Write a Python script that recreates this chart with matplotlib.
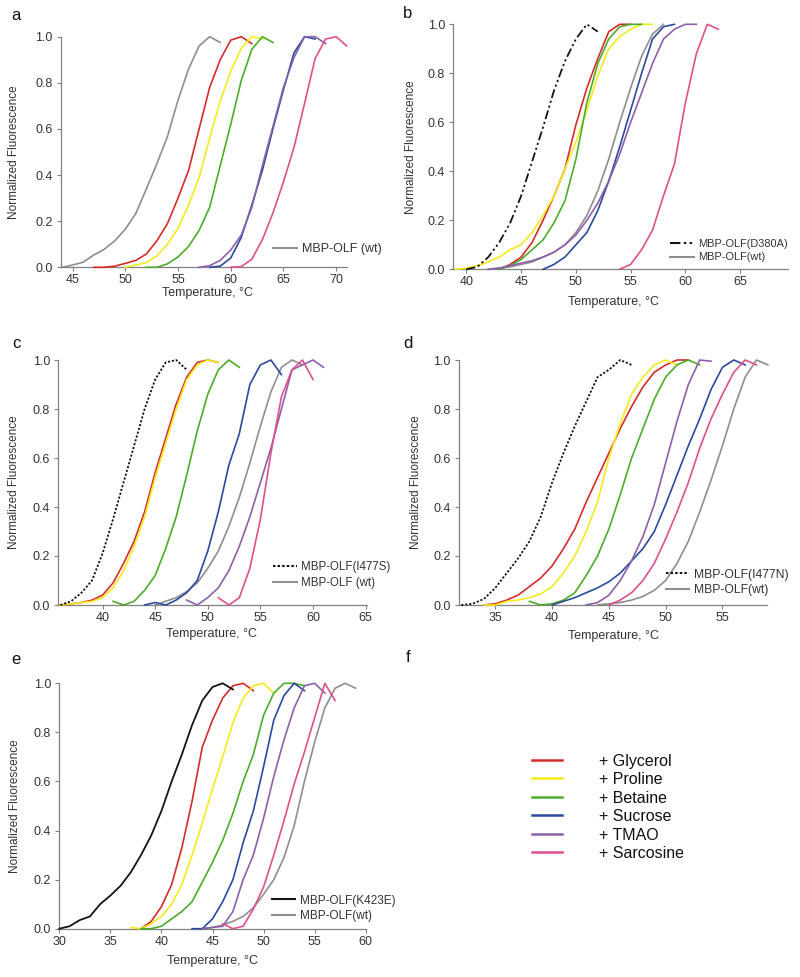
import numpy as np
import matplotlib
matplotlib.use("Agg")
import matplotlib.pyplot as plt
from matplotlib.lines import Line2D

plt.rcParams['font.family'] = ['Liberation Sans', 'DejaVu Sans']

# ---------------- data (start temperature, normalized fluorescence at 1 degC steps) ----------------
# Panel a
a_wt        = (44, [0.0, 0.01, 0.022, 0.053, 0.078, 0.115, 0.165, 0.234, 0.34, 0.45, 0.567, 0.725, 0.86, 0.96, 1.0, 0.975])
a_glycerol  = (47, [0.0, 0.0, 0.005, 0.017, 0.03, 0.058, 0.115, 0.19, 0.3, 0.42, 0.6, 0.78, 0.9, 0.985, 1.0, 0.97])
a_proline   = (50, [0.0, 0.01, 0.02, 0.05, 0.1, 0.17, 0.27, 0.39, 0.56, 0.72, 0.85, 0.95, 1.0, 0.99])
a_betaine   = (52, [0.0, 0.0, 0.015, 0.045, 0.09, 0.16, 0.26, 0.44, 0.62, 0.81, 0.945, 1.0, 0.975])
a_sucrose   = (58, [0.0, 0.005, 0.04, 0.13, 0.27, 0.42, 0.6, 0.77, 0.93, 1.0, 0.99])
a_tmao      = (57, [0.0, 0.007, 0.03, 0.075, 0.14, 0.26, 0.44, 0.61, 0.78, 0.91, 1.0, 1.0, 0.97])
a_sarcosine = (60, [0.0, 0.003, 0.035, 0.12, 0.235, 0.37, 0.52, 0.71, 0.905, 0.99, 1.0, 0.96])

# Panel b
b_mut       = (40, [0.0, 0.01, 0.05, 0.11, 0.19, 0.3, 0.44, 0.58, 0.73, 0.85, 0.94, 1.0, 0.97])
b_wt        = (42, [0.0, 0.005, 0.01, 0.02, 0.03, 0.05, 0.07, 0.1, 0.15, 0.22, 0.32, 0.45, 0.6, 0.74, 0.87, 0.96, 1.0])
b_glycerol  = (43, [0.0, 0.02, 0.05, 0.11, 0.2, 0.3, 0.41, 0.59, 0.74, 0.86, 0.97, 1.0, 1.0])
b_proline   = (39, [0.0, 0.005, 0.015, 0.03, 0.05, 0.08, 0.1, 0.15, 0.22, 0.3, 0.41, 0.52, 0.65, 0.79, 0.9, 0.95, 0.98, 1.0, 1.0])
b_betaine   = (43, [0.0, 0.015, 0.04, 0.08, 0.12, 0.19, 0.28, 0.45, 0.68, 0.84, 0.94, 0.99, 1.0, 1.0])
b_sucrose   = (47, [0.0, 0.02, 0.05, 0.1, 0.15, 0.24, 0.36, 0.5, 0.65, 0.8, 0.94, 0.99, 1.0])
b_tmao      = (42, [0.0, 0.005, 0.015, 0.025, 0.035, 0.05, 0.07, 0.1, 0.14, 0.2, 0.27, 0.36, 0.47, 0.6, 0.72, 0.84, 0.94, 0.98, 1.0, 1.0])
b_sarcosine = (54, [0.0, 0.02, 0.08, 0.16, 0.3, 0.43, 0.68, 0.88, 1.0, 0.98])

# Panel c
c_mut       = (36, [0.0, 0.015, 0.05, 0.1, 0.21, 0.35, 0.5, 0.65, 0.8, 0.92, 0.99, 1.0, 0.96])
c_wt        = (45, [0.0, 0.015, 0.03, 0.055, 0.09, 0.15, 0.22, 0.32, 0.44, 0.58, 0.73, 0.87, 0.97, 1.0, 0.98])
c_glycerol  = (36, [0.0, 0.005, 0.01, 0.02, 0.04, 0.09, 0.17, 0.26, 0.38, 0.54, 0.68, 0.82, 0.93, 0.99, 1.0, 0.99])
c_proline   = (36, [0.0, 0.005, 0.01, 0.015, 0.03, 0.07, 0.14, 0.24, 0.36, 0.52, 0.66, 0.8, 0.92, 0.98, 1.0, 0.99])
c_betaine   = (41, [0.015, 0.0, 0.015, 0.06, 0.12, 0.23, 0.36, 0.53, 0.71, 0.86, 0.96, 1.0, 0.97])
c_sucrose   = (44, [0.0, 0.01, 0.0, 0.02, 0.05, 0.1, 0.22, 0.38, 0.57, 0.7, 0.9, 0.98, 1.0, 0.94])
c_tmao      = (48, [0.02, 0.0, 0.03, 0.07, 0.14, 0.24, 0.36, 0.5, 0.64, 0.8, 0.96, 0.98, 1.0, 0.97])
c_sarcosine = (51, [0.03, 0.0, 0.03, 0.15, 0.35, 0.62, 0.85, 0.96, 1.0, 0.92])

# Panel d
d_mut       = (32, [0.0, 0.005, 0.025, 0.07, 0.13, 0.19, 0.26, 0.36, 0.5, 0.62, 0.73, 0.83, 0.93, 0.96, 1.0, 0.98])
d_wt        = (44, [0.0, 0.005, 0.01, 0.02, 0.035, 0.06, 0.1, 0.17, 0.26, 0.38, 0.51, 0.65, 0.8, 0.93, 1.0, 0.98])
d_glycerol  = (34, [0.0, 0.005, 0.02, 0.04, 0.075, 0.11, 0.16, 0.23, 0.31, 0.42, 0.52, 0.62, 0.72, 0.81, 0.89, 0.95, 0.98, 1.0, 1.0])
d_proline   = (34, [0.0, 0.0, 0.015, 0.02, 0.03, 0.045, 0.075, 0.13, 0.2, 0.3, 0.42, 0.6, 0.74, 0.86, 0.93, 0.98, 1.0, 0.98])
d_betaine   = (38, [0.015, 0.0, 0.005, 0.02, 0.05, 0.12, 0.2, 0.31, 0.45, 0.6, 0.72, 0.84, 0.93, 0.98, 1.0, 0.98])
d_sucrose   = (40, [0.0, 0.015, 0.03, 0.05, 0.07, 0.095, 0.13, 0.18, 0.23, 0.3, 0.41, 0.53, 0.65, 0.76, 0.88, 0.97, 1.0, 0.98])
d_tmao      = (43, [0.0, 0.01, 0.04, 0.1, 0.18, 0.28, 0.41, 0.58, 0.75, 0.9, 1.0, 0.995])
d_sarcosine = (45, [0.0, 0.02, 0.05, 0.1, 0.17, 0.27, 0.38, 0.5, 0.64, 0.76, 0.86, 0.95, 1.0, 0.98])

# Panel e
e_mut       = (30, [0.0, 0.01, 0.035, 0.05, 0.1, 0.135, 0.175, 0.23, 0.3, 0.38, 0.48, 0.6, 0.71, 0.83, 0.93, 0.985, 1.0, 0.975])
e_wt        = (44, [0.0, 0.005, 0.015, 0.03, 0.05, 0.085, 0.14, 0.2, 0.29, 0.42, 0.6, 0.76, 0.9, 0.98, 1.0, 0.98])
e_glycerol  = (38, [0.0, 0.03, 0.09, 0.18, 0.33, 0.52, 0.74, 0.85, 0.94, 0.99, 1.0, 0.97])
e_proline   = (37, [0.005, 0.0, 0.02, 0.05, 0.1, 0.18, 0.3, 0.43, 0.57, 0.7, 0.84, 0.94, 0.99, 1.0, 0.96])
e_betaine   = (38, [0.0, 0.0, 0.01, 0.04, 0.07, 0.11, 0.19, 0.27, 0.36, 0.47, 0.6, 0.71, 0.87, 0.96, 1.0, 1.0, 0.99])
e_sucrose   = (43, [0.0, 0.0, 0.04, 0.11, 0.2, 0.35, 0.48, 0.66, 0.85, 0.95, 1.0, 0.97])
e_tmao      = (44, [0.0, 0.005, 0.01, 0.07, 0.2, 0.3, 0.45, 0.62, 0.77, 0.9, 0.99, 1.0, 0.96])
e_sarcosine = (46, [0.02, 0.0, 0.01, 0.08, 0.17, 0.3, 0.44, 0.59, 0.72, 0.86, 1.0, 0.93])

additives = ['+ Glycerol', '+ Proline', '+ Betaine', '+ Sucrose', '+ TMAO', '+ Sarcosine']
mutant_labels = {'a': None, 'b': 'MBP-OLF(D380A)', 'c': 'MBP-OLF(I477S)',
                 'd': 'MBP-OLF(I477N)', 'e': 'MBP-OLF(K423E)'}
wt_labels = {'a': 'MBP-OLF (wt)', 'b': 'MBP-OLF(wt)', 'c': 'MBP-OLF (wt)',
             'd': 'MBP-OLF(wt)', 'e': 'MBP-OLF(wt)'}
xticks = {'a': [45, 50, 55, 60, 65, 70], 'b': [40, 45, 50, 55, 60, 65],
          'c': [40, 45, 50, 55, 60, 65], 'd': [35, 40, 45, 50, 55],
          'e': [30, 35, 40, 45, 50, 55, 60]}
yticks = [0.0, 0.2, 0.4, 0.6, 0.8, 1.0]

# ---------------- styles / layout ----------------
C_RED, C_YEL, C_GRN, C_BLU, C_PUR, C_PNK = '#d62b2b', '#f2ec1c', '#4cac2a', '#2c4a9c', '#8c5fab', '#de4f8c'
C_GRY, C_BLK = '#8e8e8e', '#141414'
add_colors = [C_RED, C_YEL, C_GRN, C_BLU, C_PUR, C_PNK]
AX_COL = '#808080'
TXT_COL = '#333333'
FS = 9
leg_fs = {'a': 9, 'b': 7.9, 'c': 8.3, 'd': 8.7, 'e': 8.5}

W, H = 800, 977
fig = plt.figure(figsize=(W / 100, H / 100), dpi=100)
fig.patch.set_facecolor('white')

geom = {
    'a': dict(box=(61, 346.7, 36.7, 267.3), xlim=(43.9, 71.0), ylab_x=15, xlab=(208, 293)),
    'b': dict(box=(453.3, 788.3, 24.3, 269.3), xlim=(38.8, 69.4), ylab_x=411.5, xlab=(613, 302)),
    'c': dict(box=(58.3, 366.7, 360, 605), xlim=(35.8, 65.1), ylab_x=15, xlab=(212, 634)),
    'd': dict(box=(459, 766.7, 360, 605), xlim=(31.8, 58.9), ylab_x=416.5, xlab=(613, 636)),
    'e': dict(box=(59.3, 365.7, 683.3, 928.7), xlim=(30, 60), ylab_x=15, xlab=(213, 961)),
}
leg_pos = {'a': (273, 249), 'b': (670, 250.8), 'c': (273, 575), 'd': (665.7, 582.5), 'e': (271.7, 908.3)}

series = {
    'a': [a_glycerol, a_proline, a_betaine, a_sucrose, a_tmao, a_sarcosine],
    'b': [b_glycerol, b_proline, b_betaine, b_sucrose, b_tmao, b_sarcosine],
    'c': [c_glycerol, c_proline, c_betaine, c_sucrose, c_tmao, c_sarcosine],
    'd': [d_glycerol, d_proline, d_betaine, d_sucrose, d_tmao, d_sarcosine],
    'e': [e_glycerol, e_proline, e_betaine, e_sucrose, e_tmao, e_sarcosine],
}
wt_series = {'a': a_wt, 'b': b_wt, 'c': c_wt, 'd': d_wt, 'e': e_wt}
mut_series = {'a': None, 'b': b_mut, 'c': c_mut, 'd': d_mut, 'e': e_mut}
mut_dash = {'b': (0, (5, 1.6, 1.2, 1.6, 1.2, 1.6)), 'c': (0, (1.2, 1.0)),
            'd': (0, (1.2, 1.0)), 'e': '-'}

LW = 1.2


def temps(s):
    start, vals = s
    return np.arange(start, start + len(vals)), np.asarray(vals)


for key, g in geom.items():
    l, r, t, b = g['box']
    ax = fig.add_axes([l / W, 1 - b / H, (r - l) / W, (b - t) / H])
    ax.set_facecolor('none')
    ax.set_xlim(*g['xlim'])
    ax.set_ylim(0, 1)
    for sp in ('top', 'right'):
        ax.spines[sp].set_visible(False)
    for sp in ('left', 'bottom'):
        ax.spines[sp].set_color(AX_COL)
        ax.spines[sp].set_linewidth(0.9)
    ax.set_xticks(xticks[key])
    ax.set_yticks(yticks)
    ax.set_yticklabels([f'{v:.1f}' for v in yticks])
    ax.tick_params(axis='both', direction='out', length=3, width=0.8, color=AX_COL,
                   labelsize=FS, labelcolor=TXT_COL)
    ax.tick_params(axis='x', pad=2)
    ax.tick_params(axis='y', pad=3)

    x, y = temps(wt_series[key])
    ax.plot(x, y, color=C_GRY, lw=LW, clip_on=False, zorder=2)
    for s, c in zip(series[key], add_colors):
        x, y = temps(s)
        ax.plot(x, y, color=c, lw=LW, clip_on=False, zorder=3)
    if mut_series[key] is not None:
        x, y = temps(mut_series[key])
        ax.plot(x, y, color=C_BLK, lw=LW + 0.1, ls=mut_dash[key], clip_on=False, zorder=4)

    handles, labels = [], []
    if mutant_labels[key]:
        handles.append(Line2D([], [], color=C_BLK, lw=LW + 0.3, ls=mut_dash[key]))
        labels.append(mutant_labels[key])
    handles.append(Line2D([], [], color=C_GRY, lw=LW + 0.3))
    labels.append(wt_labels[key])
    lx, ly = leg_pos[key]
    fs = leg_fs[key]
    ax.legend(handles, labels, loc='center left', bbox_to_anchor=(lx / W, 1 - ly / H),
              bbox_transform=fig.transFigure, frameon=False, fontsize=fs,
              handlelength=1.9 * 9 / fs, handletextpad=0.4, labelspacing=0.3, borderpad=0,
              borderaxespad=0, labelcolor=TXT_COL)

    # axis labels (ylabel anchor = right side of rotated text)
    ax.set_ylabel('Normalized Fluorescence', fontsize=8.5, color=TXT_COL)
    ax.yaxis.set_label_coords((g['ylab_x'] + 5.5 - l) / (r - l), 0.5)
    ax.set_xlabel('Temperature, °C', fontsize=FS, color=TXT_COL)
    xlx, xly = g['xlab']
    ax.xaxis.set_label_coords((xlx - l) / (r - l), -(xly - 6 - b) / (b - t))

# panel f: legend of additives
handles_f = [Line2D([], [], color=c, lw=1.8) for c in add_colors]
fig.legend(handles_f, additives, loc='center left', bbox_to_anchor=(532 / W, 1 - 807.3 / H),
           frameon=False, fontsize=11.5, handlelength=1.85, handletextpad=2.35,
           labelspacing=0.22, borderpad=0, borderaxespad=0, labelcolor='#111111')

for letter, (px, py) in {'a': (16, 15), 'b': (408, 13), 'c': (16, 343), 'd': (408, 343),
                         'e': (16, 659), 'f': (408, 657)}.items():
    fig.text(px / W, 1 - py / H, letter, fontsize=12, ha='center', va='center', color='#111111')

fig.savefig('out.png', dpi=100, facecolor='white')
